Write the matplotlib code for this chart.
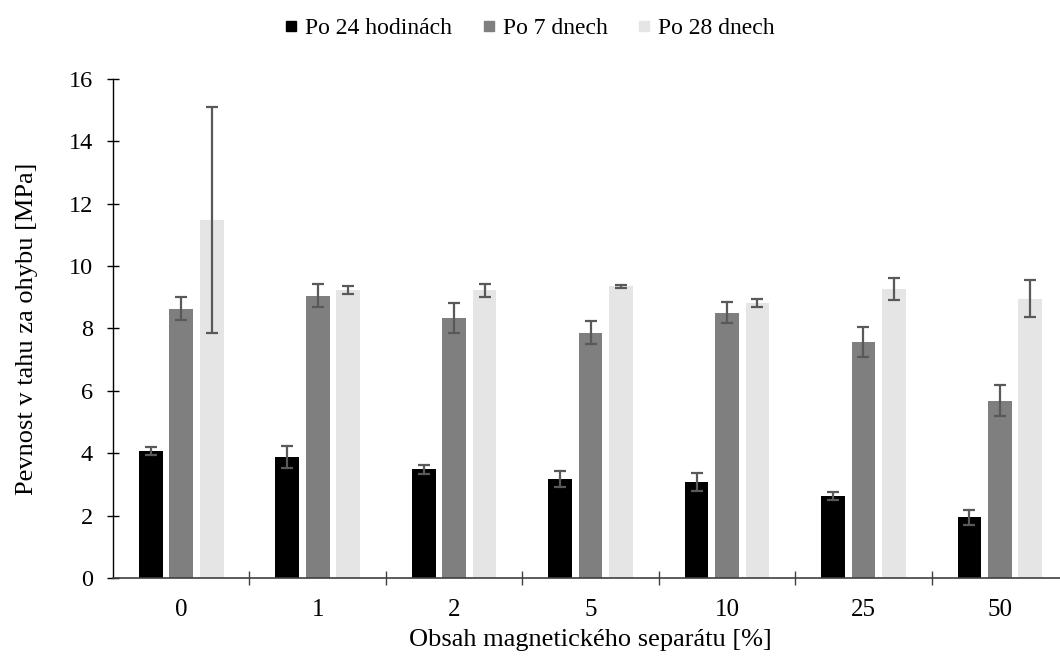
import numpy as np
import matplotlib.pyplot as plt
from matplotlib.lines import Line2D
from matplotlib.ticker import FixedLocator

plt.rcParams['font.family'] = ['Liberation Serif', 'DejaVu Serif']

# obsah separátu a průměrné pevnosti se směrodatnými odchylkami
categories = ['0', '1', '2', '5', '10', '25', '50']
series_names = ['Po 24 hodinách', 'Po 7 dnech', 'Po 28 dnech']

po_24h = [4.07, 3.88, 3.48, 3.17, 3.07, 2.62, 1.94]
po_24h_err = [0.13, 0.36, 0.15, 0.26, 0.29, 0.13, 0.25]

po_7d = [8.63, 9.05, 8.34, 7.86, 8.51, 7.56, 5.69]
po_7d_err = [0.37, 0.37, 0.47, 0.37, 0.34, 0.49, 0.51]

po_28d = [11.47, 9.23, 9.22, 9.35, 8.82, 9.27, 8.95]
po_28d_err = [3.63, 0.13, 0.20, 0.05, 0.14, 0.35, 0.59]

colors = ['#000000', '#7f7f7f', '#e5e5e5']

fig = plt.figure(figsize=(10.6, 6.56), dpi=100)
ax = fig.add_axes([0.1066, 0.1189, 0.901, 0.7607])

x = np.arange(len(categories))
step = 0.223
width = 0.174
for i, (vals, errs) in enumerate(zip([po_24h, po_7d, po_28d],
                                     [po_24h_err, po_7d_err, po_28d_err])):
    ax.bar(x + (i - 1) * step, vals, width, color=colors[i],
           label=series_names[i], zorder=2,
           yerr=errs, error_kw=dict(ecolor='#595959', elinewidth=1.6,
                                    capsize=4.5, capthick=1.6, zorder=3))

ax.set_xlim(-0.5, 6.5)
ax.set_ylim(0, 16)
ax.set_yticks(np.arange(0, 17, 2))

# popisky kategorií bez značek, značky na hranicích kategorií
ax.set_xticks(x)
ax.set_xticklabels(categories)
ax.tick_params(axis='x', which='major', length=0, pad=15, labelsize=18)
ax.xaxis.set_minor_locator(FixedLocator(np.arange(0.5, 6.5, 1.0)))
ax.tick_params(axis='x', which='minor', direction='inout', length=10,
               width=1.0, color='#404040')
ax.tick_params(axis='y', direction='inout', length=9, width=1.0,
               labelsize=17.5, pad=10)

for s in ['top', 'right']:
    ax.spines[s].set_visible(False)
ax.spines['bottom'].set_color('#404040')
ax.spines['bottom'].set_linewidth(1.2)
ax.spines['left'].set_linewidth(1.0)

ax.set_ylabel('Pevnost v tahu za ohybu [MPa]', fontsize=19, labelpad=22)
ax.set_xlabel('Obsah magnetického separátu [%]', fontsize=19, labelpad=6)

# legenda se čtverečky
handles = [Line2D([], [], marker='s', linestyle='none', markersize=7.5,
                  markerfacecolor=c, markeredgecolor=c) for c in colors]
fig.legend(handles, series_names, loc='upper center',
           bbox_to_anchor=(0.5, 1.005), ncol=3, frameon=False, fontsize=17,
           handlelength=0.5, handletextpad=0.35, columnspacing=1.3)

fig.savefig('out.png', dpi=100)
